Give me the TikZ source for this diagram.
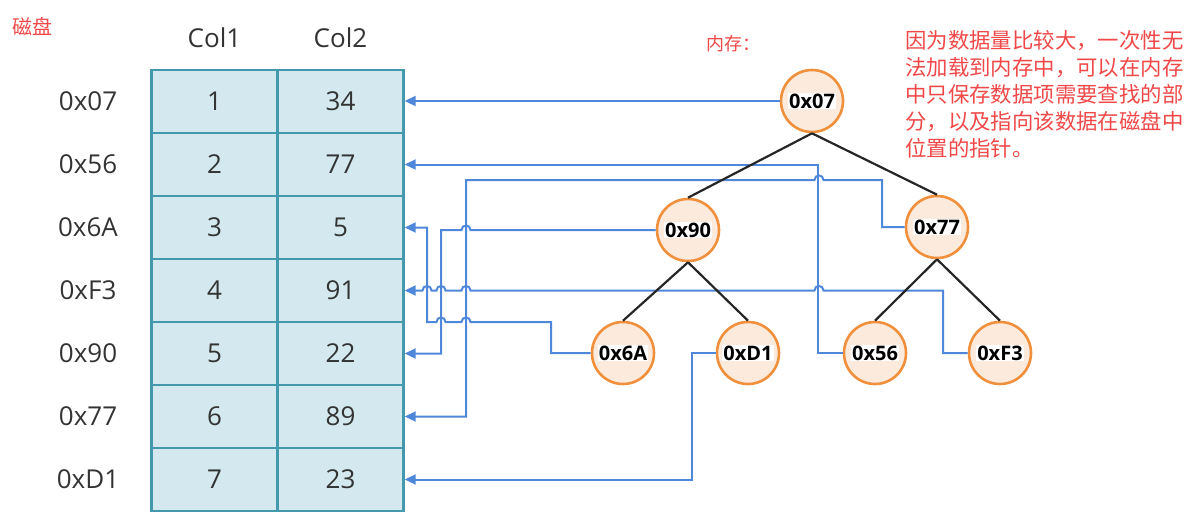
\documentclass[tikz,border=0pt]{standalone}
\usepackage{fontspec}
\setmainfont{Open Sans}
\newfontfamily\cjk{Noto Sans CJK SC}
\usetikzlibrary{arrows.meta}
\definecolor{cellfill}{HTML}{D3E9EF}
\definecolor{cellline}{HTML}{4499AD}
\definecolor{ringline}{HTML}{F0903C}
\definecolor{ringfill}{HTML}{FCEADC}
\definecolor{ptrblue}{HTML}{4F87DA}
\definecolor{notered}{HTML}{F04848}
\definecolor{txt}{HTML}{333333}
\newcommand\hopover[2]{-- (#1+4.5,#2) .. controls (#1+4.5,#2-6) and (#1-4.5,#2-6) .. (#1-4.5,#2)}
\begin{document}
\begin{tikzpicture}[x=1pt,y=-1pt,
 cell/.style={draw=cellline, fill=cellfill, line width=2.4pt, minimum width=126pt, minimum height=63pt, inner sep=0pt, text=txt, font=\fontsize{26}{30}\selectfont},
 rowlbl/.style={text=txt, font=\fontsize{26}{30}\selectfont},
 ring/.style={circle, draw=ringline, fill=ringfill, line width=2.6pt, minimum size=62pt, inner sep=0pt},
 keytext/.style={fill=white, inner sep=1pt, font=\bfseries\fontsize{20}{24}\selectfont},
 ptr/.style={draw=ptrblue, line width=2pt, -{Triangle[length=11pt,width=10pt]}},
 treeedge/.style={draw=black!85, line width=2.2pt},
 note/.style={text=notered}]
\useasboundingbox (0,0) rectangle (1191,528);

% disk table
\foreach \i/\a/\b/\k in {1/1/34/0x07, 2/2/77/0x56, 3/3/5/0x6A, 4/4/91/0xF3, 5/5/22/0x90, 6/6/89/0x77, 7/7/23/0xD1}{
  \node[cell] (c1r\i) at (214.5, 38.5+63*\i) {\a};
  \node[cell] (c2r\i) at (340.5, 38.5+63*\i) {\b};
  \node[rowlbl] (k\i) at (88, 38.5+63*\i) {\k};
}
\node[rowlbl] (h1) at (214.5,38) {Col1};
\node[rowlbl] (h2) at (340.5,38) {Col2};

% labels
\node[note, anchor=west, font=\cjk\fontsize{20}{24}\selectfont, inner sep=0pt] (disk) at (12,27) {磁盘};
\node[note, anchor=west, font=\cjk\fontsize{18}{20}\selectfont, inner sep=0pt] (mem) at (706,44) {内存：};
\node[note, anchor=north west, align=left, inner sep=0pt, font=\cjk\fontsize{21.4}{27}\selectfont] (expl) at (905,30)
 {因为数据量比较大，一次性无\\法加载到内存中，可以在内存\\中只保存数据项需要查找的部\\分，以及指向该数据在磁盘中\\位置的指针。};

% tree nodes
\node[ring] (n07) at (812,101) {}; \node[keytext] (t07) at (n07) {0x07};
\node[ring] (n90) at (688,230) {}; \node[keytext] (t90) at (n90) {0x90};
\node[ring] (n77) at (937,227) {}; \node[keytext] (t77) at (n77) {0x77};
\node[ring] (n6A) at (623,353) {}; \node[keytext] (t6A) at (n6A) {0x6A};
\node[ring] (nD1) at (748,353) {}; \node[keytext] (tD1) at (nD1) {0xD1};
\node[ring] (n56) at (875,353) {}; \node[keytext] (t56) at (n56) {0x56};
\node[ring] (nF3) at (1000,353) {}; \node[keytext] (tF3) at (nF3) {0xF3};

% pointers
\draw[ptr] (n07.west) -- (n07.west -| c2r1.east);
\draw[ptr] (n56.west) -- ++(-25,0) |- (c2r2.east);
\draw[ptr] (n77.west) -- (882,227) -- (882,180) \hopover{819}{180} -- (466,180) -- (466,416.5) -- (c2r6.east);
\draw[ptr] (n90.west) \hopover{466}{230} -- (441,230) -- (441,353.5) -- (c2r5.east);
\draw[ptr] (nF3.west) -- (943,353) -- (943,290.5) \hopover{819}{290.5} \hopover{466}{290.5} \hopover{441}{290.5} \hopover{427}{290.5} -- (c2r4.east);
\draw[ptr] (n6A.west) -- (551,353) -- (551,322) \hopover{466}{322} \hopover{441}{322} -- (427,322) -- (427,227.5) -- (c2r3.east);
\draw[ptr] (nD1.west) -- ++(-24,0) |- (c2r7.east);

% tree edges
\draw[treeedge] (n07.south) -- (n90.north);
\draw[treeedge] (n07.south) -- (n77.north);
\draw[treeedge] (n90.south) -- (n6A.north);
\draw[treeedge] (n90.south) -- (nD1.north);
\draw[treeedge] (n77.south) -- (n56.north);
\draw[treeedge] (n77.south) -- (nF3.north);
\end{tikzpicture}
\end{document}
